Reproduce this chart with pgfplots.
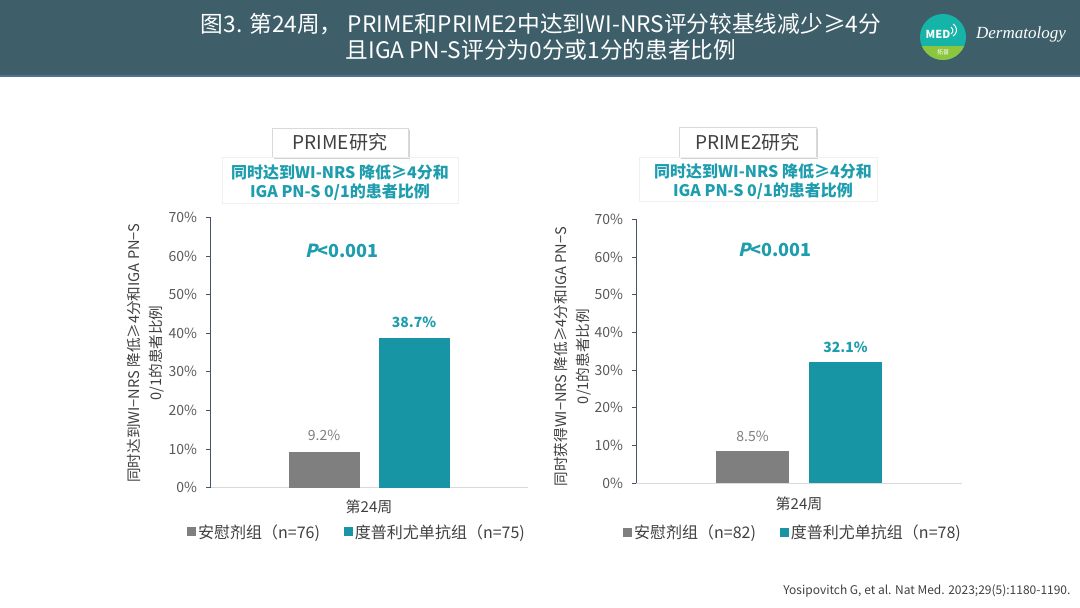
\documentclass[border=0pt]{standalone}
\usepackage{fontspec}
\setmainfont{Noto Sans CJK SC}
\newfontfamily\pslant{Noto Sans CJK SC}[FakeSlant=0.22, BoldFeatures={FakeSlant=0.22}]
\newfontfamily\dermfont{Liberation Serif}
\usepackage{pgfplots}
\pgfplotsset{compat=1.18}
\usetikzlibrary{shadows}
\definecolor{titlebar}{HTML}{3E5F6A}
\definecolor{titleline}{HTML}{4F7396}
\definecolor{barteal}{HTML}{1795A4}
\definecolor{bargray}{HTML}{7F7F7F}
\definecolor{txtteal}{HTML}{1D9DAE}
\definecolor{ynavy}{HTML}{44546A}
\definecolor{xgray}{HTML}{D9D9D9}
\definecolor{ticktext}{HTML}{595959}
\definecolor{darktext}{HTML}{404040}
\definecolor{logoteal}{HTML}{16B3A8}
\definecolor{logogreen}{HTML}{8CC63F}
\pgfplotsset{
  panel/.style={
    scale only axis, anchor=south west, clip=false,
    xmin=-1, xmax=1, ymin=0, ymax=70,
    axis x line=bottom, axis y line=left,
    axis line style={-},
    x axis line style={draw=xgray, line width=0.8bp},
    y axis line style={draw=ynavy, line width=0.8bp},
    xtick=\empty,
    ytick={0,10,20,30,40,50,60,70},
    yticklabels={0\%,10\%,20\%,30\%,40\%,50\%,60\%,70\%},
    tick align=outside, major tick length=4bp,
    ytick style={draw=ynavy, line width=0.8bp},
    yticklabel style={font=\fontsize{14bp}{16bp}\selectfont, text=ticktext, xshift=-5.5bp},
    ylabel style={font=\fontsize{14.6bp}{22bp}\selectfont, text=darktext, align=center, anchor=center},
    xlabel style={at={(axis description cs:0.5,0)}, anchor=center, font=\fontsize{15bp}{17bp}\selectfont, text=darktext},
    nodes near coords, point meta=explicit symbolic,
    every node near coord/.append style={anchor=center},
    legend columns=2,
    legend style={draw=none, fill=none, inner sep=0pt, font=\fontsize{16bp}{18bp}\selectfont, text=darktext,
      /tikz/every even column/.append style={column sep=22bp}},
    legend cell align=left,
  }
}
\begin{document}
\begin{tikzpicture}[x=1bp,y=1bp]
\useasboundingbox (0,0) rectangle (1080,608);
\fill[white] (0,0) rectangle (1080,608);
% title bar
\fill[titlebar] (0,608-76) rectangle (1080,608);
\draw[titleline, line width=2bp] (0,608-76) -- (1080,608-76);
\node[text=white, font=\fontsize{22.7bp}{26bp}\selectfont] at (541,608-24) {图3. 第24周， PRIME和PRIME2中达到WI-NRS评分较基线减少≥4分};
\node[text=white, font=\fontsize{22.7bp}{26bp}\selectfont] at (541,608-50) {且IGA PN-S评分为0分或1分的患者比例};
% logo
\begin{scope}
\clip (943,608-37) circle (23);
\fill[logoteal] (918,608-62) rectangle (968,608-12);
\fill[logogreen] (918,608-62) rectangle (968,608-46);
\end{scope}
\node[text=white, font=\bfseries\fontsize{11bp}{12bp}\selectfont] at (938,608-34) {MED};
\node[text=white, font=\fontsize{6bp}{7bp}\selectfont] at (943,608-52) {拓普};
\draw[white, line width=1bp] (951,608-27) arc (60:-60:4);
\draw[white, line width=1bp] (953,608-24) arc (60:-60:7);
\node[text=white, font=\dermfont\itshape\fontsize{17bp}{19bp}\selectfont] at (1021,608-34) {Dermatology};

% left panel
\begin{axis}[panel, at={(210bp,120.3bp)}, width=318bp, height=270.4bp,
  ybar=19bp, bar width=71bp,
  ylabel={同时达到WI−NRS 降低≥4分和IGA PN−S\\0/1的患者比例},
  ylabel style={at={(axis description cs:-0.2013,0.498)}},
  xlabel={第24周}, xlabel style={yshift=-19bp},
  legend style={at={(axis description cs:-0.0723,-0.1638)}, anchor=west},
]
\addplot[fill=bargray, draw=none,
  every node near coord/.append style={text=bargray, font=\fontsize{14bp}{16bp}\selectfont, yshift=17bp},
  legend image code/.code={\fill[bargray] (0bp,-4.5bp) rectangle (9bp,4.5bp);}]
  coordinates {(0,9.2) [9.2\%]};
\addplot[fill=barteal, draw=none,
  every node near coord/.append style={text=txtteal, font=\bfseries\fontsize{14bp}{16bp}\selectfont, yshift=16bp},
  legend image code/.code={\fill[barteal] (0bp,-4.5bp) rectangle (9bp,4.5bp);}]
  coordinates {(0,38.7) [38.7\%]};
\legend{安慰剂组（n=76),度普利尤单抗组（n=75)}
\end{axis}

% right panel
\begin{axis}[panel, at={(636bp,124.7bp)}, width=326bp, height=264bp,
  ybar=20bp, bar width=73bp,
  ylabel={同时获得WI−NRS 降低≥4分和IGA PN−S\\0/1的患者比例},
  ylabel style={at={(axis description cs:-0.1948,0.480)}},
  xlabel={第24周}, xlabel style={yshift=-21bp},
  legend style={at={(axis description cs:-0.0399,-0.1845)}, anchor=west},
]
\addplot[fill=bargray, draw=none,
  every node near coord/.append style={text=bargray, font=\fontsize{14bp}{16bp}\selectfont, yshift=15bp},
  legend image code/.code={\fill[bargray] (0bp,-4.5bp) rectangle (9bp,4.5bp);}]
  coordinates {(0,8.5) [8.5\%]};
\addplot[fill=barteal, draw=none,
  every node near coord/.append style={text=txtteal, font=\bfseries\fontsize{14bp}{16bp}\selectfont, yshift=15bp},
  legend image code/.code={\fill[barteal] (0bp,-4.5bp) rectangle (9bp,4.5bp);}]
  coordinates {(0,32.1) [32.1\%]};
\legend{安慰剂组（n=82),度普利尤单抗组（n=78)}
\end{axis}

% panel headers
\node[draw=xgray, fill=white, drop shadow={shadow xshift=2bp, shadow yshift=-2bp, opacity=0.35},
  minimum width=136bp, minimum height=29bp, inner sep=0pt, text=darktext,
  font=\fontsize{19bp}{21bp}\selectfont] at (340,608-142.5) {PRIME研究};
\draw[black!6] (222,608-157) rectangle (458,608-203);
\node[text=txtteal, align=center, font=\bfseries\fontsize{16bp}{19bp}\selectfont] at (340,608-183)
  {同时达到WI-NRS 降低≥4分和\\IGA PN-S 0/1的患者比例};
\node[text=txtteal, font=\bfseries\fontsize{18bp}{20bp}\selectfont] at (342,608-251) {{\pslant\bfseries P}<0.001};

\node[draw=xgray, fill=white, drop shadow={shadow xshift=2bp, shadow yshift=-2bp, opacity=0.35},
  minimum width=137bp, minimum height=30bp, inner sep=0pt, text=darktext,
  font=\fontsize{19bp}{21bp}\selectfont] at (747.5,608-142) {PRIME2研究};
\draw[black!6] (639,608-157) rectangle (877,608-201);
\node[text=txtteal, align=center, font=\bfseries\fontsize{16bp}{19bp}\selectfont] at (763,608-182)
  {同时达到WI-NRS 降低≥4分和\\IGA PN-S 0/1的患者比例};
\node[text=txtteal, font=\bfseries\fontsize{18bp}{20bp}\selectfont] at (775,608-250) {{\pslant\bfseries P}<0.001};

% citation
\node[anchor=east, text=darktext, font=\fontsize{12bp}{14bp}\selectfont] at (1074,608-591)
  {Yosipovitch G, et al. Nat Med. 2023;29(5):1180-1190.};
\end{tikzpicture}
\end{document}
